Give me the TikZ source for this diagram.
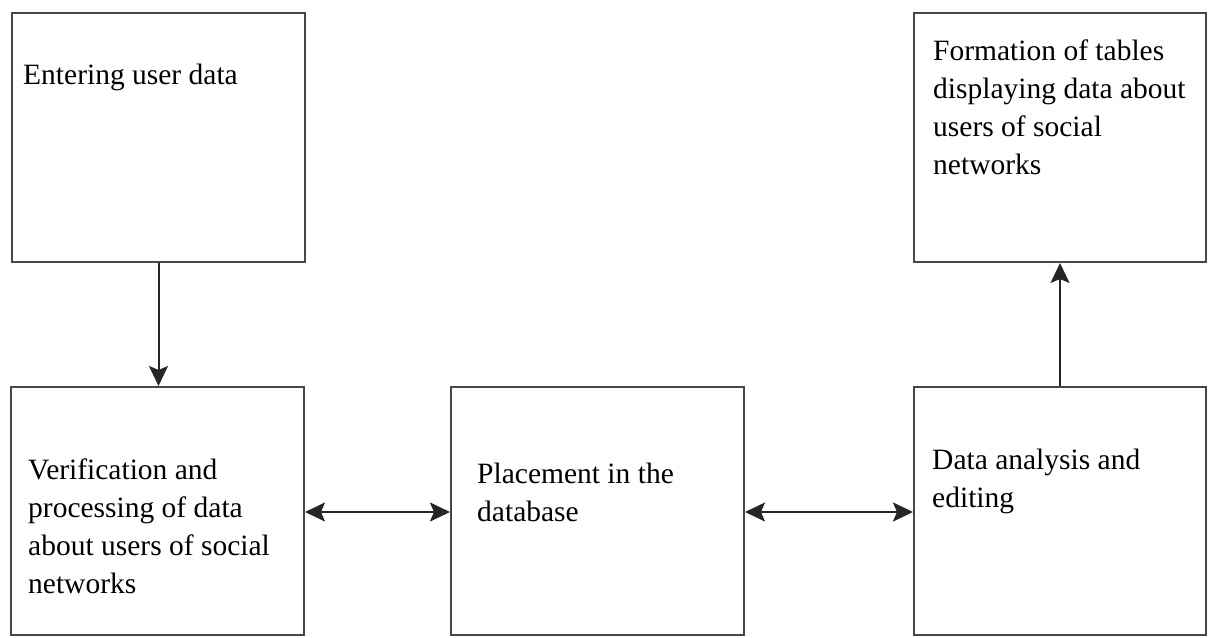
\documentclass[tikz,border=0pt]{standalone}
\usepackage{fontspec}
\setmainfont{Liberation Serif}
\usetikzlibrary{arrows.meta}
\begin{document}
\begin{tikzpicture}[x=1pt,y=-1pt,
  stagebox/.style={draw=black!72, line width=2pt, rectangle, inner sep=0pt},
  label/.style={anchor=base west, inner sep=0pt, align=left,
    font=\fontsize{29.5}{38}\selectfont},
  flow/.style={draw=black!85, line width=2pt,
    -{Stealth[length=20pt,width=19pt,inset=4pt]}},
  both/.style={draw=black!85, line width=2pt,
    {Stealth[length=20pt,width=19pt,inset=4pt]}-{Stealth[length=20pt,width=19pt,inset=4pt]}}]
\useasboundingbox (0,0) rectangle (1214,637);

% process stages
\node[stagebox, minimum width=293pt, minimum height=249pt] (b1) at (158.5,137.5) {};
\node[stagebox, minimum width=292pt, minimum height=249pt] (b2) at (1060,137.5) {};
\node[stagebox, minimum width=293pt, minimum height=248pt] (b3) at (157.5,511) {};
\node[stagebox, minimum width=293pt, minimum height=248pt] (b4) at (597.5,511) {};
\node[stagebox, minimum width=292pt, minimum height=248pt] (b5) at (1060,511) {};

% stage captions (the base anchor sits on the last line)
\node[label] (t1) at (23,84) {Entering user data};
\node[label] (t2) at (933,174) {Formation of tables\\displaying data about\\users of social\\networks};
\node[label] (t3) at (28,593) {Verification and\\processing of data\\about users of social\\networks};
\node[label] (t4) at (477,521) {Placement in the\\database};
\node[label] (t5) at (932,507) {Data analysis and\\editing};

% connectors
\draw[flow] (b1.south) -- (b1.south |- b3.north);
\draw[flow] (b5.north) -- (b2.south);
\draw[both] (b3.east |- 0,512) -- (b4.west |- 0,512);
\draw[both] (b4.east |- 0,512) -- (b5.west |- 0,512);
\end{tikzpicture}
\end{document}
